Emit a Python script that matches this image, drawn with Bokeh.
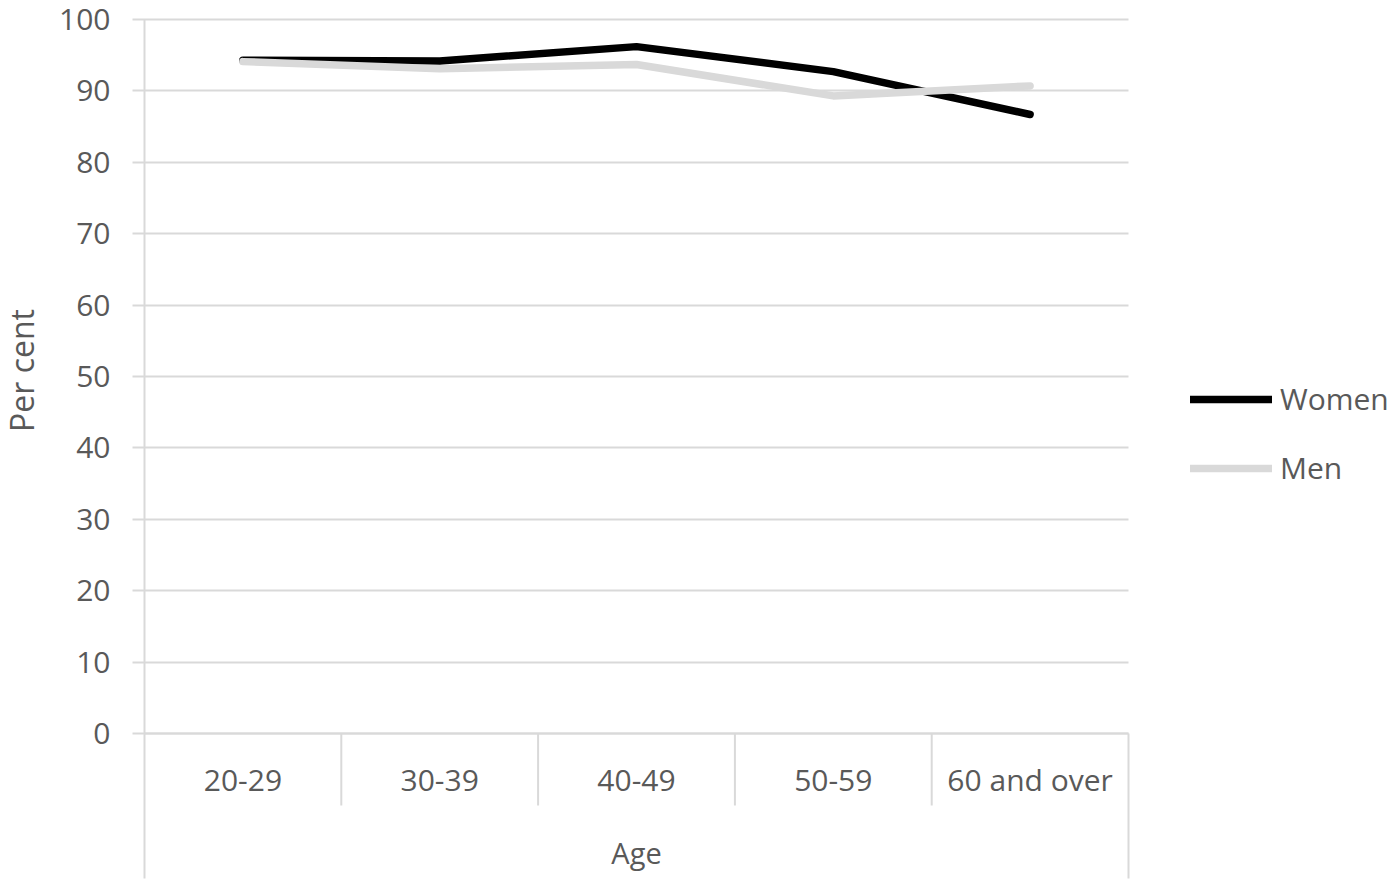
import math
from bokeh.plotting import figure
from bokeh.models import (Range1d, FixedTicker, Legend, LegendItem,
                          ColumnDataSource, Label)
from bokeh.embed import file_html
from bokeh.resources import INLINE

# ---- data ----
ages = ["20-29", "30-39", "40-49", "50-59", "60 and over"]
women = [94.3, 94.2, 96.2, 92.7, 86.7]
men = [94.1, 93.1, 93.7, 89.3, 90.7]
y_ticks = list(range(0, 101, 10))

x_pos = [i + 0.5 for i in range(len(ages))]
bounds = list(range(len(ages) + 1))

FONT = "Open Sans"
TXT = "#595959"
GRID = "#d9d9d9"

# layout (pixels) -> data ranges
W, H = 1392, 880
LEFT, RIGHT, TOP, BOTTOM = 144, 1128, 19, 733
PX_X = (RIGHT - LEFT) / len(ages)
PX_Y = (BOTTOM - TOP) / 100.0
X0 = -LEFT / PX_X
X1 = (W - LEFT) / PX_X
Y1 = 100 + TOP / PX_Y
Y0 = -(H - BOTTOM) / PX_Y
BOX_LOW = -(878 - BOTTOM) / PX_Y   # bottom of category box
SEP_LOW = -(805 - BOTTOM) / PX_Y   # bottom of category separators

p = figure(width=W, height=H, output_backend="svg", toolbar_location=None,
           x_range=Range1d(X0, X1), y_range=Range1d(Y0, Y1),
           min_border=0, min_border_left=0, min_border_right=0,
           min_border_top=0, min_border_bottom=0)
p.outline_line_color = None
p.background_fill_color = "white"
p.border_fill_color = "white"
p.xgrid.visible = False
p.ygrid.visible = False

src = ColumnDataSource(dict(x=x_pos, women=women, men=men))

# category separators and right edge of the category box
nsep = len(bounds) - 2
p.segment(x0=bounds[1:-1], y0=[0] * nsep, x1=bounds[1:-1], y1=[SEP_LOW] * nsep,
          line_color=GRID, line_width=2)
p.segment(x0=[bounds[-1]], y0=[0], x1=[bounds[-1]], y1=[BOX_LOW],
          line_color=GRID, line_width=2)

r_women = p.line("x", "women", source=src, line_color="black", line_width=7.5,
                 line_cap="round", line_join="round")
r_men = p.line("x", "men", source=src, line_color=GRID, line_width=7.5,
               line_cap="round", line_join="round")

# y axis (its ticks run across the plot as gridlines)
ya = p.yaxis[0]
ya.level = "underlay"
ya.fixed_location = 0
ya.bounds = (BOX_LOW, 100)
ya.ticker = FixedTicker(ticks=y_ticks)
ya.axis_line_color = GRID
ya.axis_line_width = 2
ya.major_tick_line_color = GRID
ya.major_tick_line_width = 2
ya.major_tick_out = 12
ya.major_tick_in = RIGHT - LEFT
ya.minor_tick_line_color = None
ya.major_label_text_font = FONT
ya.major_label_text_font_size = "30px"
ya.major_label_text_color = TXT
ya.major_label_standoff = 22

# x axis
xa = p.xaxis[0]
xa.fixed_location = 0
xa.bounds = (0, len(ages))
xa.ticker = FixedTicker(ticks=x_pos)
xa.major_label_overrides = {x: a for x, a in zip(x_pos, ages)}
xa.axis_line_color = GRID
xa.axis_line_width = 2
xa.major_tick_out = 0
xa.major_tick_in = 0
xa.major_tick_line_color = None
xa.minor_tick_line_color = None
xa.major_label_text_font = FONT
xa.major_label_text_font_size = "30px"
xa.major_label_text_color = TXT
xa.major_label_standoff = 25

# axis titles
p.add_layout(Label(x=21, y=(BOTTOM - 370) / PX_Y, x_units="screen", y_units="data",
                   text="Per cent", angle=math.pi / 2, text_align="center",
                   text_baseline="middle", text_font=FONT, text_font_size="32px",
                   text_color=TXT))
p.add_layout(Label(x=len(ages) / 2, y=-(852 - BOTTOM) / PX_Y, text="Age",
                   text_align="center", text_baseline="middle", text_font=FONT,
                   text_font_size="29px", text_color=TXT))

legend = Legend(items=[LegendItem(label="Women", renderers=[r_women]),
                       LegendItem(label="Men", renderers=[r_men])],
                location=(1190, 392), orientation="vertical",
                padding=0, margin=0, spacing=28, glyph_width=82, glyph_height=36,
                label_height=36, label_standoff=8,
                label_text_font=FONT, label_text_font_size="30px",
                label_text_color=TXT, border_line_color=None,
                background_fill_alpha=0)
p.add_layout(legend, "center")

open("out.html", "w").write(file_html(p, INLINE))
